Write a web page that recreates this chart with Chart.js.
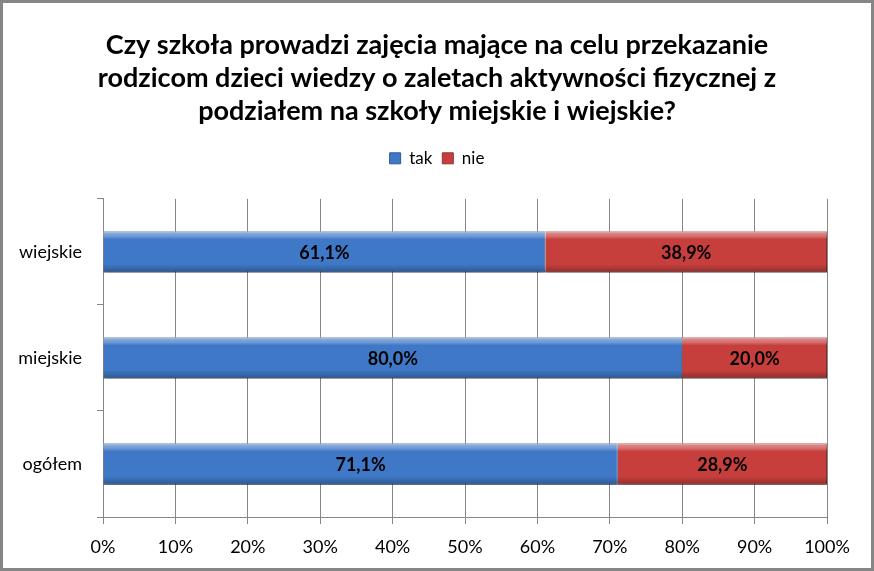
<!DOCTYPE html>
<html lang="pl">
<head>
  <meta charset="UTF-8">
  <script src="https://cdn.jsdelivr.net/npm/chart.js"></script>
  <title>Zajęcia dla rodziców</title>
  <style>
    body { margin: 0; background: #fff; }
    #wrap { width: 874px; height: 571px; box-sizing: border-box; border: 3px solid #868686; background: #fff; }
    canvas { display: block; }
  </style>
</head>
<body>
  <div id="wrap"><canvas id="chart" width="868" height="565"></canvas></div>

  <script>
    const categories = ["wiejskie", "miejskie", "ogółem"];
    const takValues = [61.1, 80.0, 71.1];
    const nieValues = [38.9, 20.0, 28.9];
    const titleLines = [
      "Czy szkoła prowadzi zajęcia mające na celu przekazanie",
      "rodzicom dzieci wiedzy o zaletach aktywności fizycznej z",
      "podziałem na szkoły miejskie i wiejskie?"
    ];

    const FONT = "Lato, 'Open Sans', sans-serif";

    // tytuł i legenda wyśrodkowane na całej szerokości, więcej miejsca pod legendą
    const headerFix = {
      id: "headerFix",
      afterInit(chart) {
        const fit = chart.legend.fit;
        chart.legend.fit = function () {
          fit.call(this);
          this.height += 22;
        };
        [chart.titleBlock, chart.legend].forEach(box => {
          const draw = box.draw;
          box.draw = function () {
            chart.ctx.save();
            chart.ctx.translate(22, 0);
            draw.apply(this, arguments);
            chart.ctx.restore();
          };
        });
      }
    };

    // połysk na słupkach + etykiety z wartościami
    const barDecor = {
      id: "barDecor",
      beforeDatasetsDraw(chart) {
        const ctx = chart.ctx;
        ctx.save();
        ctx.shadowColor = "rgba(0,0,0,0.28)";
        ctx.shadowBlur = 5;
        ctx.shadowOffsetY = 4;
      },
      afterDatasetsDraw(chart) {
        const ctx = chart.ctx;
        ctx.restore();
        ctx.save();
        chart.data.datasets.forEach((ds, di) => {
          chart.getDatasetMeta(di).data.forEach((bar, i) => {
            const top = bar.y - bar.height / 2, bottom = bar.y + bar.height / 2;
            const left = Math.min(bar.base, bar.x), right = Math.max(bar.base, bar.x);
            const g = ctx.createLinearGradient(0, top, 0, bottom);
            g.addColorStop(0, "rgba(255,255,255,0.45)");
            g.addColorStop(0.12, "rgba(255,255,255,0.25)");
            g.addColorStop(0.2, "rgba(255,255,255,0)");
            g.addColorStop(0.8, "rgba(0,0,0,0)");
            g.addColorStop(1, "rgba(0,0,0,0.28)");
            ctx.fillStyle = g;
            ctx.fillRect(left, top, right - left, bottom - top);

            ctx.fillStyle = "#000";
            ctx.font = "bold 18px " + FONT;
            ctx.textAlign = "center";
            ctx.textBaseline = "middle";
            ctx.fillText(ds.data[i].toFixed(1).replace(".", ",") + "%", (left + right) / 2, bar.y + 1);
          });
        });
        ctx.restore();
      }
    };

    new Chart(document.getElementById("chart"), {
      type: "bar",
      data: {
        labels: categories,
        datasets: [
          { label: "tak", data: takValues, backgroundColor: "#3f78c6", borderColor: "#2d5a99", borderWidth: 1 },
          { label: "nie", data: nieValues, backgroundColor: "#c63f3d", borderColor: "#943030", borderWidth: 1 }
        ]
      },
      options: {
        indexAxis: "y",
        responsive: false,
        animation: false,
        layout: { padding: { left: 0, right: 44, top: 8, bottom: 0 } },
        datasets: { bar: { categoryPercentage: 1, barPercentage: 0.39 } },
        scales: {
          x: {
            stacked: true,
            min: 0,
            max: 100,
            afterFit: s => { s.height = 51; },
            ticks: { stepSize: 10, color: "#000", font: { family: FONT, size: 18 }, padding: 12, callback: v => v + "%" },
            grid: { color: "#868686", tickLength: 7 },
            border: { color: "#868686" }
          },
          y: {
            stacked: true,
            afterFit: s => { s.width = 100; },
            ticks: { color: "#000", font: { family: FONT, size: 18 }, padding: 15 },
            grid: { offset: true, drawOnChartArea: false, color: "#868686", tickLength: 6 },
            border: { color: "#868686" }
          }
        },
        plugins: {
          title: {
            display: true,
            text: titleLines,
            color: "#000",
            font: { family: FONT, size: 27, weight: "bold", lineHeight: 1.22 },
            padding: { top: 18, bottom: 12 }
          },
          legend: {
            labels: { color: "#000", font: { family: FONT, size: 17 }, boxWidth: 11, boxHeight: 11, padding: 10 }
          },
          tooltip: { enabled: false }
        }
      },
      plugins: [headerFix, barDecor]
    });
  </script>
</body>
</html>
